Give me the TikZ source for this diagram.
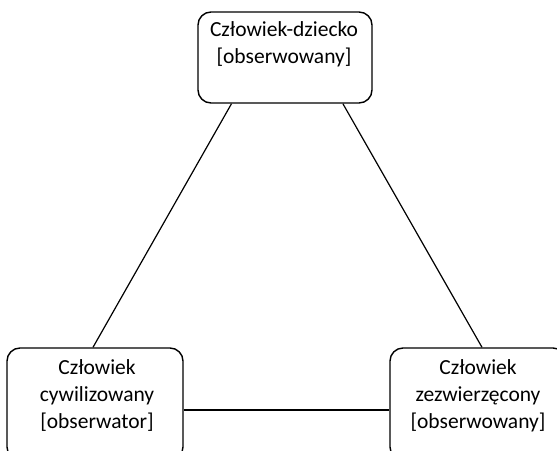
\documentclass[tikz,border=0pt]{standalone}
\usepackage{fontspec}
\setmainfont{Carlito}
\usetikzlibrary{calc}
\begin{document}
\begin{tikzpicture}[x=1pt,y=-1pt,
  box/.style={draw=black, line width=1.4pt, rounded corners=13pt, minimum width=176pt, inner sep=0pt},
  lbl/.style={align=center, inner sep=0pt, anchor=north, font=\fontsize{21.5}{27}\selectfont},
  link/.style={draw=black, line width=1.2pt}]
  \clip (0,0) rectangle (557,450);
  % three boxes
  \node[box, minimum width=174pt, minimum height=91pt] (child) at (285,57.5) {};
  \node[box, minimum height=112pt] (civil) at (95,404) {};
  \node[box, minimum height=112pt] (beast) at (478,404) {};
  % their labels, hung from the top edge of each box
  \node[lbl] (childtxt) at ($(child.north)+(-1,10)$) {Człowiek-dziecko\\{[obserwowany]}};
  \node[lbl] (civiltxt) at ($(civil.north)+(2,12)$) {Człowiek\\cywilizowany\\{[obserwator]}};
  \node[lbl] (beasttxt) at ($(beast.north)+(0,12)$) {Człowiek\\zezwierzęcony\\{[obserwowany]}};
  % connectors
  \draw[link] ($(child.south west)!0.195!(child.south east)$) -- ($(civil.north)+(-2,0)$);
  \draw[link] ($(child.south west)!0.83!(child.south east)$) -- ($(beast.north)+(4,0)$);
  \draw[link] (civil.east |- 0,410) -- (beast.west |- 0,410);
\end{tikzpicture}
\end{document}
